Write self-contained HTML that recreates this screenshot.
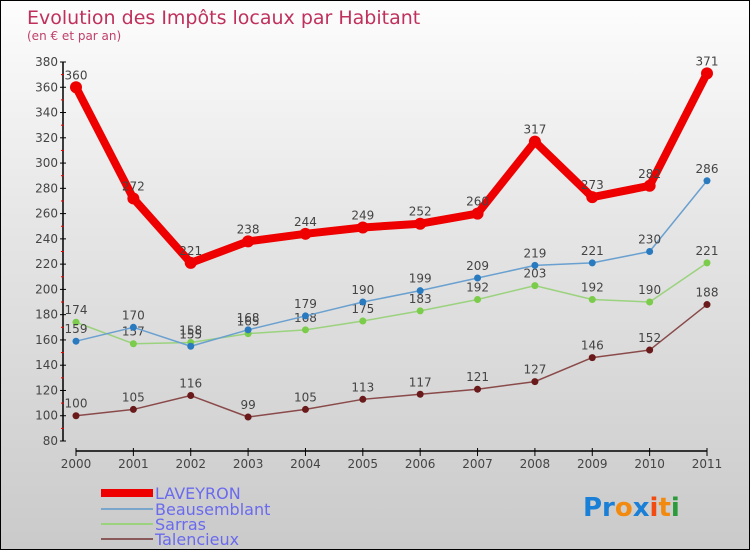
<!DOCTYPE html>
<html><head><meta charset="utf-8"><style>
body{margin:0;padding:0}
#wrap{position:relative;width:748px;height:548px;border:1px solid #000;background:linear-gradient(#fdfdfd,#e6e6e6 40%,#cacaca);font-family:"DejaVu Sans","Liberation Sans",sans-serif;overflow:hidden}
svg{position:absolute;left:0;top:0}
</style></head><body>
<div id="wrap">
<svg id="c" width="750" height="550">
<text x="26" y="23" font-size="19" fill="#c0305c">Evolution des Impôts locaux par Habitant</text>
<text x="26" y="39" font-size="12" fill="#c0406a">(en € et par an)</text>
<g id="axes"></g><g id="series"></g>
<g>
<rect x="100" y="488" width="52" height="8" fill="#e00"/>
<text x="154" y="498" font-size="16" fill="#6a6aee">LAVEYRON</text>
<rect x="100" y="507" width="52" height="2" fill="#7aa6cc"/>
<text x="154" y="514" font-size="16" fill="#6a6aee">Beausemblant</text>
<rect x="100" y="522" width="52" height="2" fill="#9bd27e"/>
<text x="154" y="529" font-size="16" fill="#6a6aee">Sarras</text>
<rect x="100" y="537" width="52" height="2" fill="#8a5a5a"/>
<text x="154" y="544" font-size="16" fill="#6a6aee">Talencieux</text>
</g>
<g font-size="26" font-weight="bold" font-family="'DejaVu Sans',sans-serif">
<text x="582" y="515"><tspan fill="#1a7fd6">Pr</tspan><tspan fill="#f28a10">o</tspan><tspan fill="#1a7fd6">x</tspan><tspan fill="#f24a10">i</tspan><tspan fill="#f28a10">t</tspan><tspan fill="#2a9a3a">i</tspan></text>
</g>
</svg>
</div>
<script>
const years=[2000,2001,2002,2003,2004,2005,2006,2007,2008,2009,2010,2011];
const laveyron=[360,272,221,238,244,249,252,260,317,273,282,371];
const beausemblant=[159,170,155,168,179,190,199,209,219,221,230,286];
const sarras=[174,157,158,165,168,175,183,192,203,192,190,221];
const talencieux=[100,105,116,99,105,113,117,121,127,146,152,188];
const yTicks=[80,100,120,140,160,180,200,220,240,260,280,300,320,340,360,380];
const NS="http://www.w3.org/2000/svg";
function X(i){return 75+i*(706-75)/(years.length-1);}
function Y(v){return 440-(v-80)*(379/300);}
function mk(tag,attrs,parent){const e=document.createElementNS(NS,tag);for(const k in attrs)e.setAttribute(k,attrs[k]);parent.appendChild(e);return e;}
const ax=document.getElementById('axes');
const yl=mk('line',{x1:62,y1:Y(380),x2:62,y2:Y(80),stroke:'#000','stroke-width':1.5},ax);


yTicks.forEach(v=>{
 mk('line',{x1:59,y1:Y(v),x2:65,y2:Y(v),stroke:'#000'},ax);
 if(v<380)mk('line',{x1:60,y1:Y(v+10),x2:63,y2:Y(v+10),stroke:'#e00'},ax);
 const t=mk('text',{x:57,y:Y(v)+4,'font-size':12,fill:'#444','text-anchor':'end'},ax);
 t.textContent=v;
 
 
});
const xl=mk('line',{x1:75,y1:450,x2:706,y2:450,stroke:'#000','stroke-width':1.5},ax);


years.forEach((yr,i)=>{
 mk('line',{x1:X(i),y1:447,x2:X(i),y2:455,stroke:'#000'},ax);
 const t=mk('text',{x:X(i),y:467,'font-size':12,fill:'#444','text-anchor':'middle'},ax);
 t.textContent=yr;
 
 
});
const sg=document.getElementById('series');
function draw(data,name,color,w,r,dot){
 const g=mk('g',{},sg);
 
 
 const p=mk('polyline',{points:data.map((v,i)=>X(i)+','+Y(v)).join(' '),fill:'none',stroke:color,'stroke-width':w,'stroke-linejoin':'round'},g);
 
 
 data.forEach((v,i)=>{
  const c=mk('circle',{cx:X(i),cy:Y(v),r:r,fill:dot},g);
  
  
  const t=mk('text',{x:X(i),y:Y(v)-8,'font-size':12,fill:'#444','text-anchor':'middle'},g);
  t.textContent=v;
  
  
 });
}
draw(talencieux,'talencieux','#8a4a4a',1.5,3.5,'#6a1a1a');
draw(sarras,'sarras','#9bd27e',1.5,3.5,'#7acc4a');
draw(beausemblant,'beausemblant','#6aa0d0',1.5,3.5,'#2a7ac0');
draw(laveyron,'laveyron','#e00',8,6,'#e00');
</script>
</body></html>
